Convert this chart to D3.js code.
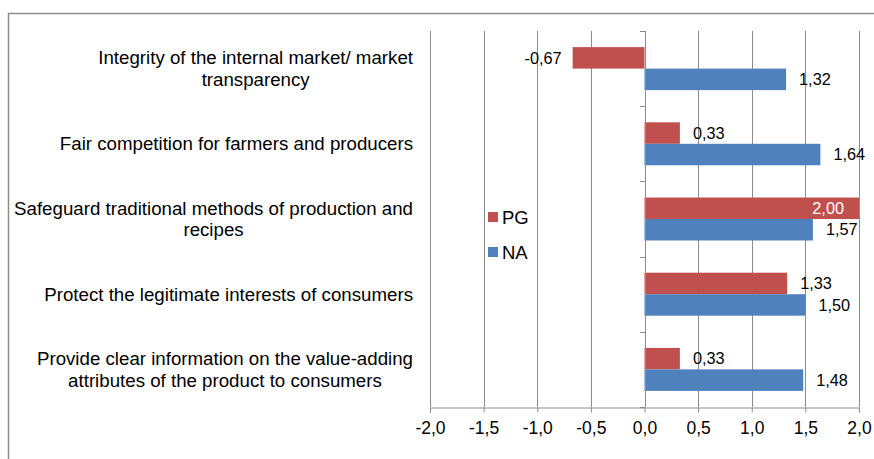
<!DOCTYPE html>
<html lang="en">
<head>
<meta charset="utf-8">
<style>
    body { margin: 0; background: #fff; }
    svg { display: block; font-family: "Liberation Sans", Arial, sans-serif; }
</style>
</head>
<body>
<div id="chart"></div>
<script src="https://d3js.org/d3.v7.min.js"></script>
<script>
    // categories, top to bottom (lines as they wrap in the chart)
    var categories = [
        ["Integrity of the internal market/ market", "transparency"],
        ["Fair competition for farmers and producers"],
        ["Safeguard traditional methods of production and", "recipes"],
        ["Protect the legitimate interests of consumers"],
        ["Provide clear information on the value-adding", "attributes of the product to consumers"]
    ];
    var seriesNames = ["PG", "NA"];
    var pgValues = [-0.67, 0.33, 2.00, 1.33, 0.33];
    var naValues = [1.32, 1.64, 1.57, 1.50, 1.48];
    var xTicks = [-2, -1.5, -1, -0.5, 0, 0.5, 1, 1.5, 2];

    var colors = { PG: "#C0504D", NA: "#4F81BD" };
    var W = 874, H = 459;

    var svg = d3.select("#chart").append("svg")
        .attr("width", W)
        .attr("height", H);

    // outer chart frame
    svg.append("rect")
        .attr("x", 8.5).attr("y", 13.5)
        .attr("width", W + 10).attr("height", H + 10)
        .attr("fill", "none")
        .attr("stroke", "#8c8c8c")
        .attr("stroke-width", 1.5);

    var catIds = categories.map(function (d, i) { return "c" + i; });

    var x = d3.scaleLinear().domain([-2, 2]).range([430, 859]);
    var y0 = d3.scaleBand().domain(catIds).range([31, 407]);
    var y1 = d3.scaleBand().domain(seriesNames)
        .range([0, y0.bandwidth()])
        .paddingInner(0).paddingOuter(0.75);

    var data = catIds.map(function (id, i) {
        return { id: id, PG: pgValues[i], NA: naValues[i] };
    });

    // vertical gridlines
    svg.append("g").selectAll("line")
        .data(xTicks)
        .enter().append("line")
        .attr("x1", function (d) { return Math.round(x(d)) + 0.5; })
        .attr("x2", function (d) { return Math.round(x(d)) + 0.5; })
        .attr("y1", 31).attr("y2", 407)
        .attr("stroke", "#8c8c8c")
        .attr("stroke-width", 1);

    // x axis at bottom
    var fmt1 = function (d) { return d3.format(".1f")(d).replace(".", ",").replace("−", "-"); };
    var xAxis = svg.append("g")
        .attr("transform", "translate(0,407.5)")
        .call(d3.axisBottom(x).tickValues(xTicks).tickSize(5).tickPadding(9).tickFormat(fmt1));
    xAxis.select(".domain").attr("stroke", "#8c8c8c");
    xAxis.selectAll(".tick line").attr("stroke", "#8c8c8c");
    xAxis.selectAll(".tick text")
        .attr("fill", "#000")
        .style("font-size", "17.5px")
        .style("font-family", "Liberation Sans, Arial, sans-serif");

    // bars
    var groups = svg.append("g").selectAll("g")
        .data(data)
        .enter().append("g")
        .attr("transform", function (d) { return "translate(0," + y0(d.id) + ")"; });

    groups.selectAll("rect")
        .data(function (d) { return seriesNames.map(function (k) { return { key: k, value: d[k] }; }); })
        .enter().append("rect")
        .attr("x", function (d) { return x(Math.min(0, d.value)); })
        .attr("width", function (d) { return Math.abs(x(d.value) - x(0)); })
        .attr("y", function (d) { return y1(d.key); })
        .attr("height", y1.bandwidth())
        .attr("fill", function (d) { return colors[d.key]; });

    // value labels
    var fmt2 = function (d) { return d3.format(".2f")(d).replace(".", ",").replace("−", "-"); };
    groups.selectAll("text")
        .data(function (d) { return seriesNames.map(function (k) { return { key: k, value: d[k] }; }); })
        .enter().append("text")
        .attr("x", function (d) {
            if (d.value >= 2) return x(d.value) - 15;
            return d.value < 0 ? x(d.value) - 11 : x(d.value) + 13;
        })
        .attr("y", function (d) { return y1(d.key) + y1.bandwidth() / 2; })
        .attr("dy", "0.35em")
        .attr("text-anchor", function (d) { return (d.value < 0 || d.value >= 2) ? "end" : "start"; })
        .attr("fill", function (d) { return d.value >= 2 ? "#fff" : "#000"; })
        .style("font-size", "16.3px")
        .text(function (d) { return fmt2(d.value); });

    // category axis at zero
    svg.append("line")
        .attr("x1", Math.round(x(0)) + 0.5).attr("x2", Math.round(x(0)) + 0.5)
        .attr("y1", 31).attr("y2", 407)
        .attr("stroke", "#8c8c8c");
    var bounds = catIds.map(function (id) { return y0(id); }).concat([y0.range()[1]]);
    svg.append("g").selectAll("line")
        .data(bounds)
        .enter().append("line")
        .attr("x1", Math.round(x(0)) - 5).attr("x2", Math.round(x(0)) + 0.5)
        .attr("y1", function (d) { return Math.round(d) + 0.5; })
        .attr("y2", function (d) { return Math.round(d) + 0.5; })
        .attr("stroke", "#8c8c8c");

    // category labels: block right aligned, lines centred inside it
    var lineH = 21.5;
    categories.forEach(function (lines, i) {
        var g = svg.append("g");
        var cy = y0(catIds[i]) + y0.bandwidth() / 2;
        var texts = lines.map(function (t, j) {
            return g.append("text")
                .attr("y", cy + (j - (lines.length - 1) / 2) * lineH)
                .attr("dy", "0.35em")
                .attr("text-anchor", "middle")
                .style("font-size", "18.7px")
                .text(t);
        });
        var maxW = d3.max(texts, function (t) { return t.node().getComputedTextLength(); });
        texts.forEach(function (t) { t.attr("x", 413 - maxW / 2); });
    });

    // legend
    var legend = svg.append("g").selectAll("g")
        .data(seriesNames)
        .enter().append("g")
        .attr("transform", function (d, i) { return "translate(488," + (212 + i * 35) + ")"; });
    legend.append("rect")
        .attr("width", 10).attr("height", 10)
        .attr("fill", function (d) { return colors[d]; });
    legend.append("text")
        .attr("x", 14).attr("y", 5)
        .attr("dy", "0.36em")
        .style("font-size", "18.5px")
        .text(function (d) { return d; });
</script>
</body>
</html>
